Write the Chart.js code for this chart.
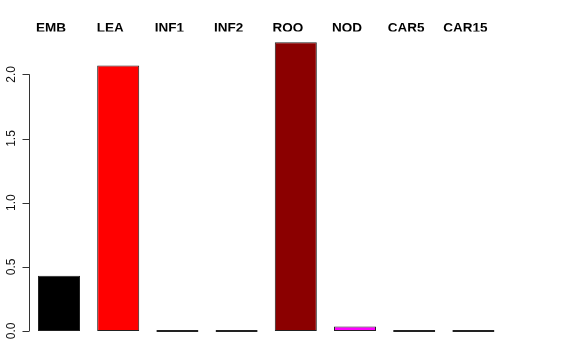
<!DOCTYPE html>
<html>
<head>
<meta charset="utf-8">
<script src="https://cdn.jsdelivr.net/npm/chart.js@4"></script>
<style>
  html, body { margin: 0; padding: 0; background: #fff; }
  #wrap { width: 576px; height: 360px; }
</style>
</head>
<body>
<div id="wrap"><canvas id="barChart" width="576" height="360"></canvas></div>
<script>
// Tissue labels and values
const tissues = ["EMB", "LEA", "INF1", "INF2", "ROO", "NOD", "CAR5", "CAR15"];
const values = [0.43, 2.07, 0, 0, 2.25, 0.035, 0, 0];
const barColors = ["#000000", "#ff0000", "#1f3f1f", "#2a2a3a", "#8b0000", "#ff00ff", "#333333", "#333333"];
const yTicks = [0, 0.5, 1, 1.5, 2];

// R-style y axis: line only from first to last tick, labels turned 90 degrees
const rAxis = {
  id: "rAxis",
  afterDraw(chart) {
    const ctx = chart.ctx;
    const y = chart.scales.y;
    const x0 = Math.round(chart.chartArea.left) + 0.5;
    ctx.save();
    ctx.strokeStyle = "#333";
    ctx.lineWidth = 1;
    ctx.beginPath();
    ctx.moveTo(x0, y.getPixelForValue(yTicks[0]));
    ctx.lineTo(x0, y.getPixelForValue(yTicks[yTicks.length - 1]));
    // tick marks
    yTicks.forEach((v) => {
      const py = Math.round(y.getPixelForValue(v)) + 0.5;
      ctx.moveTo(x0 - 7, py);
      ctx.lineTo(x0, py);
    });
    ctx.stroke();

    ctx.fillStyle = "#111";
    ctx.font = "12px 'Liberation Sans', Arial, sans-serif";
    ctx.textAlign = "center";
    ctx.textBaseline = "middle";
    yTicks.forEach((v) => {
      ctx.save();
      ctx.translate(12, y.getPixelForValue(v));
      ctx.rotate(-Math.PI / 2);
      ctx.fillText(v.toFixed(1), 0, 0);
      ctx.restore();
    });
    ctx.restore();
  }
};

const ctx = document.getElementById("barChart").getContext("2d");
new Chart(ctx, {
  type: "bar",
  data: {
    labels: tissues,
    datasets: [
      {
        data: values,
        backgroundColor: barColors,
        borderColor: "#222",
        borderWidth: 1,
        borderSkipped: false,
        minBarLength: 2,
        categoryPercentage: 1,
        barPercentage: 0.71
      }
    ]
  },
  options: {
    responsive: false,
    animation: false,
    layout: { padding: { left: 0, right: 73, top: 0, bottom: 17.5 } },
    plugins: {
      legend: { display: false },
      tooltip: { enabled: false }
    },
    scales: {
      x: {
        position: "top",
        grid: { display: false, drawTicks: false },
        border: { display: false },
        ticks: {
          color: "#000",
          font: { family: "'Liberation Sans', Arial, sans-serif", size: 13.5, weight: "bold" },
          labelOffset: -8,
          padding: -5,
          maxRotation: 0,
          autoSkip: false
        },
        afterFit(scale) { scale.height = 31.4; }
      },
      y: {
        min: -0.09,
        max: 2.335,
        grid: { display: false },
        border: { display: false },
        ticks: { display: false },
        afterBuildTicks(axis) { axis.ticks = yTicks.map((v) => ({ value: v })); },
        afterFit(scale) { scale.width = 29.4; }
      }
    }
  },
  plugins: [rAxis]
});
</script>
</body>
</html>
